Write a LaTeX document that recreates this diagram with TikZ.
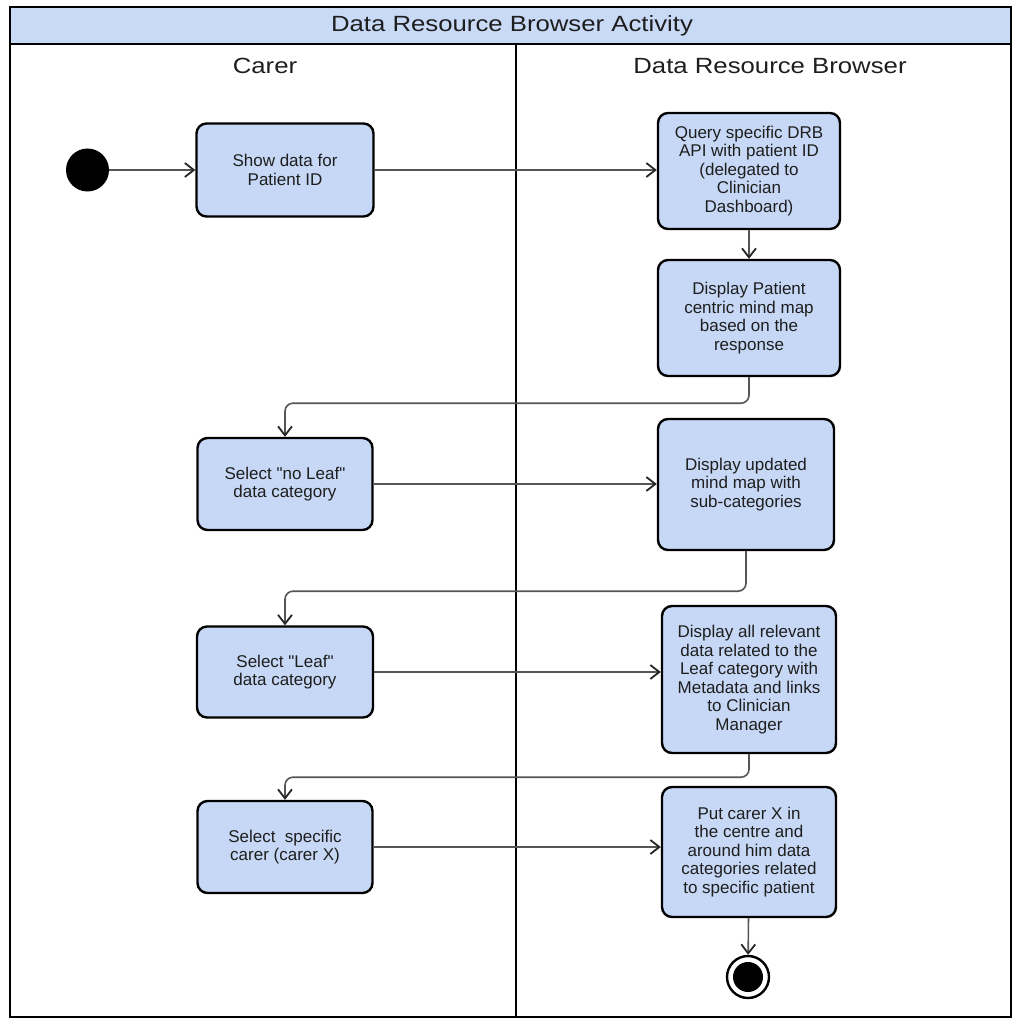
\documentclass[tikz,border=0pt]{standalone}
\usepackage{fontspec}
\setmainfont{Liberation Sans}
\newfontfamily\titlefont[FakeStretch=1.17]{Liberation Sans}
\newfontfamily\qfont{Liberation Sans}
\usetikzlibrary{arrows.meta}
\definecolor{boxfill}{HTML}{C6D8F5}
\definecolor{hdrfill}{HTML}{C9DAF7}
\definecolor{txt}{HTML}{1E1E1E}
\definecolor{flowc}{HTML}{555555}
\newcommand{\dq}{{\qfont\char34}}
\begin{document}
\begin{tikzpicture}[x=1pt,y=-1pt,
  act/.style={draw=black,fill=boxfill,line width=2.4pt,rounded corners=10pt,
    inner sep=0pt,align=center,text=txt,
    font=\fontsize{17}{18.5}\selectfont},
  flow/.style={draw=flowc,line width=1.6pt,rounded corners=8pt,
    -{Straight Barb[length=9pt,width=14pt,line width=1.8pt,color=black!85]}},
  ttl/.style={text=txt,font=\titlefont\fontsize{22}{26}\selectfont,inner sep=0pt}]
\useasboundingbox (0,0) rectangle (1014,1019);
% frame and header
\fill[hdrfill] (10,7) rectangle (1011,44);
\draw[line width=2pt] (10,7) rectangle (1011,1017);
\draw[line width=2pt] (10,44) -- (1011,44);
\draw[line width=2.4pt] (516,44) -- (516,1017);
\node[ttl] (title) at (512,26) {Data Resource Browser Activity};
\node[ttl] (lane1) at (265,66) {Carer};
\node[ttl] (lane2) at (770,66) {Data Resource Browser};
% nodes
\node[circle,fill=black,minimum size=43pt,inner sep=0pt] (start) at (87.5,170) {};
\node[act,minimum width=177pt,minimum height=93pt] (show) at (285,170) {Show data for\\Patient ID};
\node[act,minimum width=182pt,minimum height=116pt] (query) at (749,171) {Query specific DRB\\API with patient ID\\(delegated to\\Clinician\\Dashboard)};
\node[act,minimum width=182pt,minimum height=116pt] (disp1) at (749,318) {Display Patient\\centric mind map\\based on the\\response};
\node[act,minimum width=175pt,minimum height=92pt] (sel1) at (285,484) {Select \dq no Leaf\dq\\data category};
\node[act,minimum width=176pt,minimum height=131pt] (disp2) at (746,484.5) {Display updated\\mind map with\\sub-categories};
\node[act,minimum width=176pt,minimum height=91pt] (sel2) at (285,672) {Select \dq Leaf\dq\\data category};
\node[act,minimum width=174pt,minimum height=147pt] (disp3) at (749,679.5) {Display all relevant\\data related to the\\Leaf category with\\Metadata and links\\to Clinician\\Manager};
\node[act,minimum width=175pt,minimum height=92pt] (sel3) at (285,847) {Select\ \ specific\\carer (carer X)};
\node[act,minimum width=174pt,minimum height=130pt] (put) at (749,852) {Put carer X in\\the centre and\\around him data\\categories related\\to specific patient};
\node[circle,draw=black,line width=2.4pt,fill=white,minimum size=42pt,inner sep=0pt] (end) at (748,977) {};
\node[circle,fill=black,minimum size=30pt,inner sep=0pt] (endin) at (end.center) {};
% connectors
\draw[flow] (start) -- (show);
\draw[flow] (show) -- (query.west |- show.east);
\draw[flow] (query) -- (disp1);
\draw[flow] (disp1.south) -- ++(0,26) -| (sel1.north);
\draw[flow] (sel1) -- (disp2.west |- sel1.east);
\draw[flow] (disp2.south) -- ++(0,40) -| (sel2.north);
\draw[flow] (sel2) -- (disp3.west |- sel2.east);
\draw[flow] (disp3.south) -- ++(0,23) -| (sel3.north);
\draw[flow] (sel3) -- (put.west |- sel3.east);
\draw[flow] (put) -- (end);
\end{tikzpicture}
\end{document}
